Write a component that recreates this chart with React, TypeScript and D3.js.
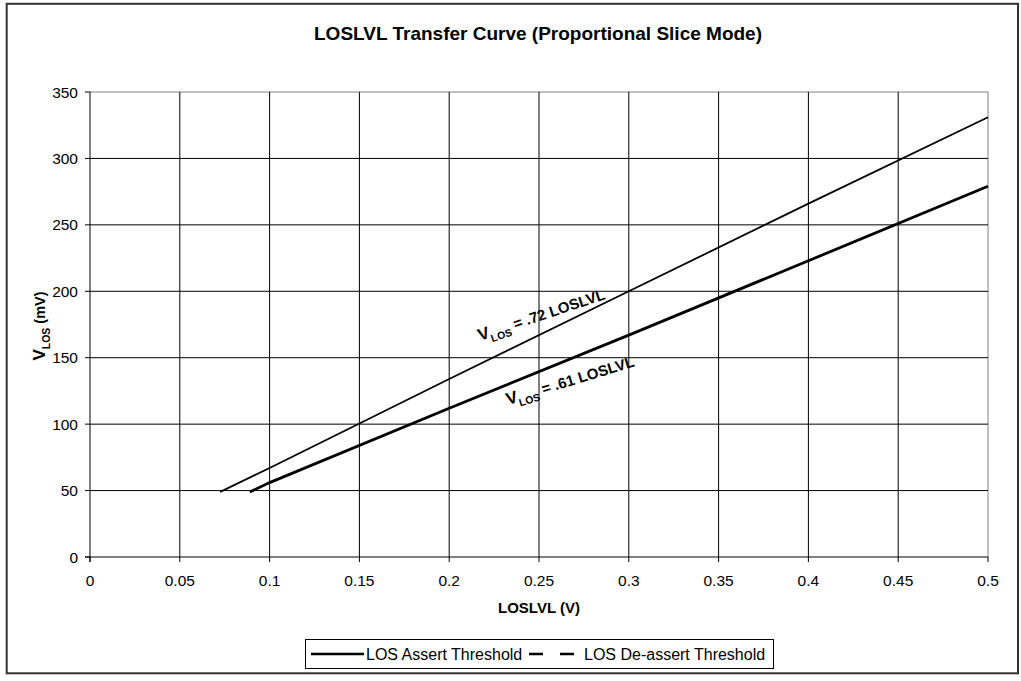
import React from "react";
import * as d3 from "d3";

const title = "LOSLVL Transfer Curve (Proportional Slice Mode)";
const xTicks = [0, 0.05, 0.1, 0.15, 0.2, 0.25, 0.3, 0.35, 0.4, 0.45, 0.5];
const yTicks = [0, 50, 100, 150, 200, 250, 300, 350];

const assertX = [0.0725, 0.1, 0.2, 0.3, 0.4, 0.5];
const assertY = [49, 67, 134, 200, 266, 331];
const deassertX = [0.089, 0.1, 0.2, 0.3, 0.4, 0.5];
const deassertY = [49, 56, 112, 167, 223, 279];

const seriesNames = ["LOS Assert Threshold", "LOS De-assert Threshold"];

const W = 1021;
const H = 681;
const FONT = "'Liberation Sans', Arial, sans-serif";

export default function App() {
  const left = 90, right = 988, top = 92, bottom = 557;
  const x = d3.scaleLinear().domain([0, 0.5]).range([left, right]);
  const y = d3.scaleLinear().domain([0, 350]).range([bottom, top]);

  const line = d3
    .line<[number, number]>()
    .x((d) => x(d[0]))
    .y((d) => y(d[1]));

  const assertPts = assertX.map((v, i) => [v, assertY[i]] as [number, number]);
  const deassertPts = deassertX.map((v, i) => [v, deassertY[i]] as [number, number]);

  return (
    <svg
      width={W}
      height={H}
      style={{ position: "absolute", left: 0, top: 0, background: "#fff" }}
      fontFamily={FONT}
    >
      <rect x={0} y={0} width={W} height={H} fill="#fff" />
      {/* outer frame */}
      <rect x={6.7} y={3.8} width={1011.3} height={669.5} fill="none" stroke="#333" strokeWidth={2} />

      {/* title */}
      <text x={538} y={40} textAnchor="middle" fontWeight="bold" fontSize={19}>
        {title}
      </text>

      {/* plot border top/right */}
      <line x1={left} x2={right} y1={top} y2={top} stroke="#808080" strokeWidth={1} />
      <line x1={right} x2={right} y1={top} y2={bottom} stroke="#808080" strokeWidth={1} />

      {/* grid */}
      {yTicks.filter((t) => t !== 0 && t !== 350).map((t) => (
        <line key={"gy" + t} x1={left} x2={right} y1={y(t)} y2={y(t)} stroke="#000" strokeWidth={1} />
      ))}
      {xTicks.filter((t) => t !== 0 && t !== 0.5).map((t) => (
        <line key={"gx" + t} x1={x(t)} x2={x(t)} y1={top} y2={bottom} stroke="#000" strokeWidth={1} />
      ))}

      {/* axes */}
      <line x1={left} x2={left} y1={top} y2={bottom + 5} stroke="#000" strokeWidth={1} />
      <line x1={left - 5} x2={right} y1={bottom} y2={bottom} stroke="#000" strokeWidth={1} />
      {yTicks.map((t) => (
        <g key={"yt" + t}>
          <line x1={left - 5} x2={left} y1={y(t)} y2={y(t)} stroke="#000" />
          <text x={left - 12} y={y(t) + 5.5} textAnchor="end" fontSize={15.5}>
            {t}
          </text>
        </g>
      ))}
      {xTicks.map((t) => (
        <g key={"xt" + t}>
          <line x1={x(t)} x2={x(t)} y1={bottom} y2={bottom + 5} stroke="#000" />
          <text x={x(t)} y={bottom + 29} textAnchor="middle" fontSize={15.5}>
            {String(t)}
          </text>
        </g>
      ))}

      {/* axis titles */}
      <text x={539} y={613} textAnchor="middle" fontWeight="bold" fontSize={15}>
        LOSLVL (V)
      </text>
      <text
        transform={`translate(45, 326) rotate(-90)`}
        textAnchor="middle"
        fontWeight="bold"
        fontSize={14.5}
      >
        <tspan fontSize={17}>V</tspan>
        <tspan fontSize={10.5} dy={5}>LOS</tspan>
        <tspan dy={-5}> (mV)</tspan>
      </text>

      {/* series */}
      <path d={line(assertPts) || ""} fill="none" stroke="#000" strokeWidth={1.8} />
      <path d={line(deassertPts) || ""} fill="none" stroke="#000" strokeWidth={2.8} />

      {/* annotations */}
      <text transform={`translate(480, 341) rotate(-18.5)`} fontWeight="bold" fontSize={15}>
        <tspan fontSize={17}>V</tspan>
        <tspan fontSize={10.5} dy={5}>LOS</tspan>
        <tspan dy={-5}> = .72 LOSLVL</tspan>
      </text>
      <text transform={`translate(508, 405) rotate(-17)`} fontWeight="bold" fontSize={15}>
        <tspan fontSize={17}>V</tspan>
        <tspan fontSize={10.5} dy={5}>LOS</tspan>
        <tspan dy={-5}> = .61 LOSLVL</tspan>
      </text>

      {/* legend */}
      <rect x={305.5} y={639.5} width={468} height={29} fill="#fff" stroke="#000" strokeWidth={1} />
      <line x1={311} x2={364} y1={654} y2={654} stroke="#000" strokeWidth={2.5} />
      <text x={366} y={660} fontSize={16}>{seriesNames[0]}</text>
      <line x1={529} x2={575} y1={654} y2={654} stroke="#000" strokeWidth={2.5} strokeDasharray="14,17" />
      <text x={584} y={660} fontSize={16}>{seriesNames[1]}</text>
    </svg>
  );
}
